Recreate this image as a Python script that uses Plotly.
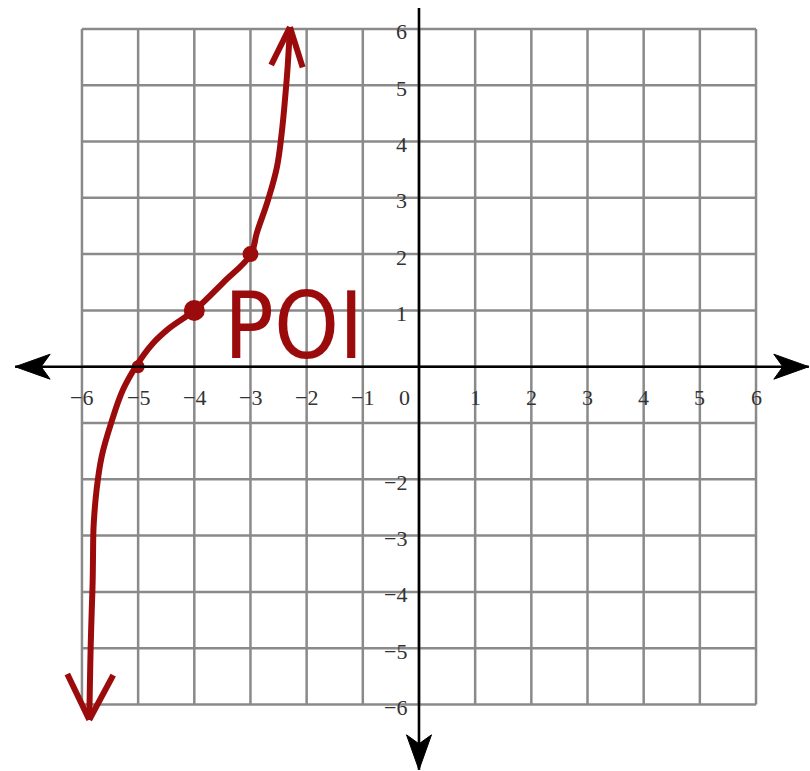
import numpy as np
import plotly.graph_objects as go

# Grid extent and tick labels
grid_ticks = list(range(-6, 7))
x_tick_vals = [-6, -5, -4, -3, -2, -1, 1, 2, 3, 4, 5, 6]
x_tick_text = ["\u22126", "\u22125", "\u22124", "\u22123", "\u22122", "\u22121",
               "1", "2", "3", "4", "5", "6"]
y_tick_vals = [6, 5, 4, 3, 2, 1, -2, -3, -4, -5, -6]
y_tick_text = ["6", "5", "4", "3", "2", "1", "\u22122", "\u22123", "\u22124", "\u22125", "\u22126"]

# Axis line ends (arrow tips on left, right and bottom)
x_axis_ends = [-7.19, 6.94]
y_axis_ends = [-7.16, 6.37]

# Sketched curve (bottom end to top end)
curve_x = [-5.87, -5.857, -5.845, -5.827, -5.809, -5.80, -5.79, -5.74, -5.65,
           -5.48, -5.27, -5.03, -4.75, -4.45, -3.988, -3.489, -2.991, -2.889,
           -2.688, -2.528, -2.444, -2.386, -2.338, -2.297]
curve_y = [-6.27, -5.56, -4.98, -4.37, -3.79, -3.08, -2.78, -2.19, -1.60,
           -1.00, -0.41, 0.02, 0.40, 0.68, 1.01, 1.49, 2.0, 2.37,
           2.96, 3.55, 4.15, 4.74, 5.33, 6.03]

# Marked points on the curve (x-intercept, point of inflection, upper point)
pt_x = [-5, -4, -3]
pt_y = [0, 1, 2]
pt_size = [13, 21, 16]

RED = "#9b0b0b"
GRID = "#8a8a8a"

X_RANGE = [-7.459, 6.961]
Y_RANGE = [-7.181, 6.513]
W, H = 810, 771
SX = W / (X_RANGE[1] - X_RANGE[0])   # pixels per x unit
SY = H / (Y_RANGE[1] - Y_RANGE[0])   # pixels per y unit

fig = go.Figure()

# Grid lines
for v in grid_ticks:
    fig.add_shape(type="line", x0=v, x1=v, y0=-6, y1=6,
                  line=dict(color=GRID, width=2.5), layer="below")
    fig.add_shape(type="line", x0=-6, x1=6, y0=v, y1=v,
                  line=dict(color=GRID, width=2.5), layer="below")

# Coordinate axes
fig.add_shape(type="line", x0=x_axis_ends[0], x1=x_axis_ends[1], y0=0, y1=0,
              line=dict(color="black", width=2.6))
fig.add_shape(type="line", x0=0, x1=0, y0=y_axis_ends[0], y1=y_axis_ends[1],
              line=dict(color="black", width=2.6))


def notched_head(tip_x, tip_y, ux, uy, length=35, half=12.5, notch=9):
    """SVG path for a filled notched arrowhead; (ux, uy) is the pointing direction in pixels."""
    px, py = -uy, ux
    pts = [(0, 0),
           (-length * ux + half * px, -length * uy + half * py),
           (-(length - notch) * ux, -(length - notch) * uy),
           (-length * ux - half * px, -length * uy - half * py)]
    coords = [(tip_x + dx / SX, tip_y + dy / SY) for dx, dy in pts]
    return "M " + " L ".join(f"{x:.4f},{y:.4f}" for x, y in coords) + " Z"


for tx, ty, ux, uy in ((x_axis_ends[0], 0, -1, 0), (x_axis_ends[1], 0, 1, 0),
                       (0, y_axis_ends[0], 0, -1)):
    fig.add_shape(type="path", path=notched_head(tx, ty, ux, uy),
                  fillcolor="black", line=dict(color="black", width=1))

# Tick labels
label_font = dict(family="Liberation Serif, Times New Roman, serif", size=22, color="#333333")
for v, t in zip(x_tick_vals, x_tick_text):
    fig.add_annotation(x=v, y=-0.547, text=t, showarrow=False, font=label_font,
                       xanchor="center", yanchor="middle")
fig.add_annotation(x=-0.25, y=-0.547, text="0", showarrow=False, font=label_font,
                   xanchor="center", yanchor="middle")
for v, t in zip(y_tick_vals, y_tick_text):
    fig.add_annotation(x=-0.17, y=v, text=t, showarrow=False, font=label_font,
                       xanchor="right", yanchor="middle", yshift=-3)

# The curve
fig.add_trace(go.Scatter(x=curve_x, y=curve_y, mode="lines",
                         line=dict(color=RED, width=6, shape="spline", smoothing=1.1),
                         hoverinfo="skip"))


def barbs(tip_x, tip_y, from_x, from_y, length, spread_deg):
    """Open arrowhead barbs at a curve end, pointing back along the curve."""
    d = np.array([from_x - tip_x, from_y - tip_y], dtype=float)
    d /= np.linalg.norm(d)
    xs, ys = [], []
    for s in (spread_deg, -spread_deg):
        a = np.radians(s)
        r = np.array([d[0] * np.cos(a) - d[1] * np.sin(a),
                      d[0] * np.sin(a) + d[1] * np.cos(a)])
        xs += [tip_x + r[0] * length, tip_x, None]
        ys += [tip_y + r[1] * length, tip_y, None]
    return xs, ys


for tip, prev, length, spread in ((-1, -4, 0.75, 22), (0, 3, 0.9, 27)):
    bx, by = barbs(curve_x[tip], curve_y[tip], curve_x[prev], curve_y[prev], length, spread)
    fig.add_trace(go.Scatter(x=bx, y=by, mode="lines",
                             line=dict(color=RED, width=6), hoverinfo="skip"))

fig.add_trace(go.Scatter(x=pt_x, y=pt_y, mode="markers",
                         marker=dict(color=RED, size=pt_size, opacity=1, line=dict(width=0)),
                         hoverinfo="skip"))

# Label for the point of inflection
fig.add_annotation(x=-3.50, y=0.71, text="POI", showarrow=False,
                   font=dict(family="DejaVu Sans Condensed, Liberation Sans Narrow, sans-serif",
                             size=92, color=RED),
                   xanchor="left", yanchor="middle")

fig.update_layout(
    width=W, height=H,
    margin=dict(l=0, r=0, t=0, b=0),
    paper_bgcolor="white", plot_bgcolor="white",
    showlegend=False,
    xaxis=dict(range=X_RANGE, visible=False, fixedrange=True),
    yaxis=dict(range=Y_RANGE, visible=False, fixedrange=True),
)

fig.write_html("out.html")
